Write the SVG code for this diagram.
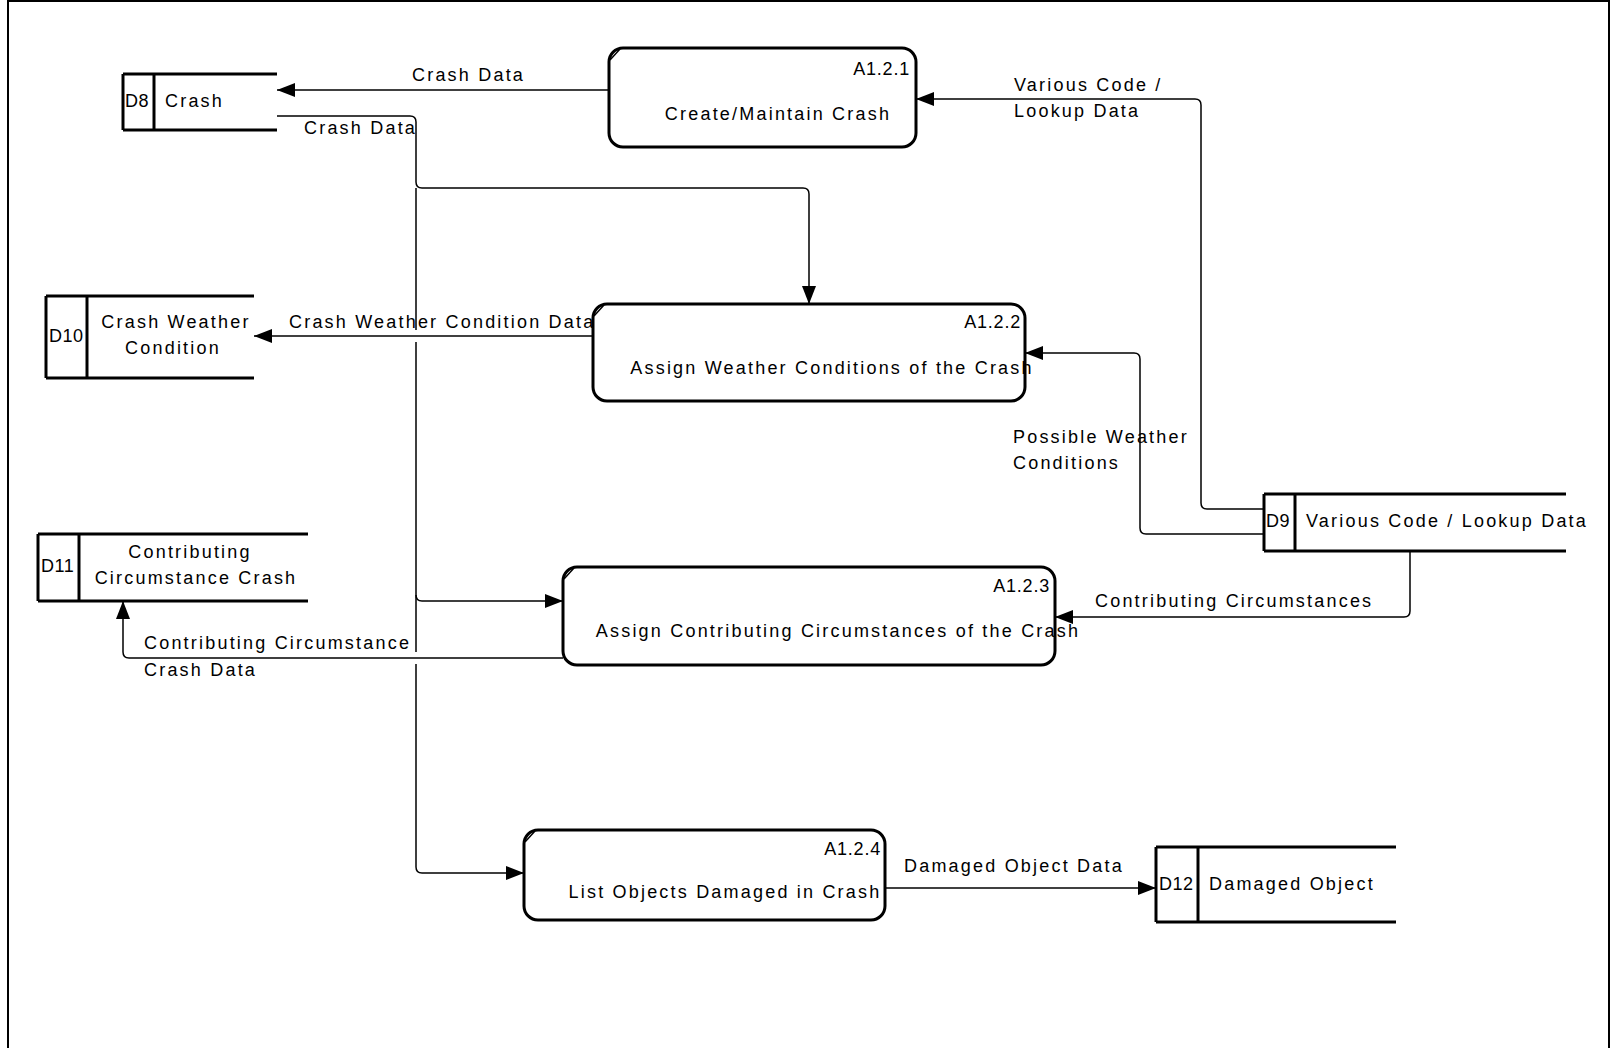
<svg xmlns="http://www.w3.org/2000/svg" width="1610" height="1048" viewBox="0 0 1610 1048">
  <defs>
    <marker id="arrow" viewBox="0 0 18 14" refX="18" refY="7" markerWidth="18" markerHeight="14" markerUnits="userSpaceOnUse" orient="auto">
      <path d="M0,0 L18,7 L0,14 Z" fill="#000"/>
    </marker>
    <style>
      text { font-family: "Liberation Sans", Arial, sans-serif; font-size: 18px; fill: #000; letter-spacing: 2.2px; }
      .proc rect { fill: #fff; stroke: #000; stroke-width: 3; }
      .proc .notch { fill: none; stroke: #000; stroke-width: 1.5; }
      .store line { stroke: #000; stroke-width: 3; }
      .flow { fill: none; stroke: #000; stroke-width: 1.5; }
      .arr { marker-end: url(#arrow); }
      .gap { stroke: #fff; stroke-width: 6; }
      .id { text-anchor: end; letter-spacing: 0.8px; }
      .mid { text-anchor: middle; }
      .code { letter-spacing: 0.5px; }
    </style>
  </defs>

  <rect width="1610" height="1048" fill="#fff"/>
  <!-- page frame -->
  <path d="M8,1048 V1 H1609 V1048" fill="none" stroke="#000" stroke-width="2"/>

  <!-- connectors -->
  <g id="connectors">
    <!-- A1.2.1 -> D8 -->
    <path class="flow arr" d="M609,90 H277"/>
    <!-- D8 -> A1.2.2 -->
    <path class="flow arr" d="M277,116 H410 Q416,116 416,122 V182 Q416,188 422,188 H803 Q809,188 809,194 V304"/>
    <!-- D8 -> A1.2.3 / A1.2.4 trunk -->
    <path class="flow arr" d="M416,188 V595 Q416,601 422,601 H563"/>
    <path class="flow arr" d="M416,595 V867 Q416,873 422,873 H524"/>
    <!-- A1.2.2 -> D10 -->
    <line class="gap" x1="416" y1="330" x2="416" y2="342"/>
    <path class="flow arr" d="M593,336 H254"/>
    <!-- D9 -> A1.2.1 -->
    <path class="flow arr" d="M1264,509 H1207 Q1201,509 1201,503 V105 Q1201,99 1195,99 H916"/>
    <!-- D9 -> A1.2.2 -->
    <path class="flow arr" d="M1264,534 H1146 Q1140,534 1140,528 V359 Q1140,353 1134,353 H1025"/>
    <!-- D9 -> A1.2.3 -->
    <path class="flow arr" d="M1410,551 V611 Q1410,617 1404,617 H1055"/>
    <!-- A1.2.3 -> D11 -->
    <line class="gap" x1="416" y1="652" x2="416" y2="664"/>
    <path class="flow arr" d="M563,658 H129 Q123,658 123,652 V601"/>
    <!-- A1.2.4 -> D12 -->
    <path class="flow arr" d="M885,888 H1156"/>

    <!-- flow labels -->
    <text x="412" y="81">Crash Data</text>
    <text x="304" y="134">Crash Data</text>
    <text x="1014" y="91">Various Code /</text>
    <text x="1014" y="117">Lookup Data</text>
    <text x="289" y="328">Crash Weather Condition Data</text>
    <text x="1013" y="443">Possible Weather</text>
    <text x="1013" y="469">Conditions</text>
    <text x="1095" y="607">Contributing Circumstances</text>
    <text x="144" y="649">Contributing Circumstance</text>
    <text x="144" y="676">Crash Data</text>
    <text x="904" y="872">Damaged Object Data</text>
  </g>

  <!-- data stores -->
  <g id="D8" class="store">
    <line x1="123" y1="74" x2="277" y2="74"/>
    <line x1="123" y1="130" x2="277" y2="130"/>
    <line x1="123" y1="74" x2="123" y2="130"/>
    <line x1="154" y1="74" x2="154" y2="130"/>
    <text class="code" x="125" y="107">D8</text>
    <text x="165" y="107">Crash</text>
  </g>

  <g id="D10" class="store">
    <line x1="46" y1="296" x2="254" y2="296"/>
    <line x1="46" y1="378" x2="254" y2="378"/>
    <line x1="46" y1="296" x2="46" y2="378"/>
    <line x1="87" y1="296" x2="87" y2="378"/>
    <text class="code" x="49" y="342">D10</text>
    <text class="mid" x="176" y="328">Crash Weather</text>
    <text class="mid" x="173" y="354">Condition</text>
  </g>

  <g id="D9" class="store">
    <line x1="1264" y1="494" x2="1566" y2="494"/>
    <line x1="1264" y1="551" x2="1566" y2="551"/>
    <line x1="1264" y1="494" x2="1264" y2="551"/>
    <line x1="1295" y1="494" x2="1295" y2="551"/>
    <text class="code" x="1266" y="527">D9</text>
    <text x="1306" y="527">Various Code / Lookup Data</text>
  </g>

  <g id="D11" class="store">
    <line x1="38" y1="534" x2="308" y2="534"/>
    <line x1="38" y1="601" x2="308" y2="601"/>
    <line x1="38" y1="534" x2="38" y2="601"/>
    <line x1="79" y1="534" x2="79" y2="601"/>
    <text class="code" x="41" y="572">D11</text>
    <text class="mid" x="190" y="558">Contributing</text>
    <text class="mid" x="196" y="584">Circumstance Crash</text>
  </g>

  <g id="D12" class="store">
    <line x1="1156" y1="847" x2="1396" y2="847"/>
    <line x1="1156" y1="922" x2="1396" y2="922"/>
    <line x1="1156" y1="847" x2="1156" y2="922"/>
    <line x1="1198" y1="847" x2="1198" y2="922"/>
    <text class="code" x="1159" y="890">D12</text>
    <text x="1209" y="890">Damaged Object</text>
  </g>

  <!-- processes -->
  <g id="A1.2.1" class="proc">
    <rect x="609" y="48" width="307" height="99" rx="14"/>
    <path class="notch" d="M610,60 L620,49"/>
    <text class="id" x="910" y="75">A1.2.1</text>
    <text class="mid" x="778" y="120">Create/Maintain Crash</text>
  </g>

  <g id="A1.2.2" class="proc">
    <rect x="593" y="304" width="432" height="97" rx="14"/>
    <path class="notch" d="M594,316 L604,305"/>
    <text class="id" x="1021" y="328">A1.2.2</text>
    <text class="mid" x="832" y="374">Assign Weather Conditions of the Crash</text>
  </g>

  <g id="A1.2.3" class="proc">
    <rect x="563" y="567" width="492" height="98" rx="14"/>
    <path class="notch" d="M564,579 L574,568"/>
    <text class="id" x="1050" y="592">A1.2.3</text>
    <text class="mid" x="838" y="637">Assign Contributing Circumstances of the Crash</text>
  </g>

  <g id="A1.2.4" class="proc">
    <rect x="524" y="830" width="361" height="90" rx="14"/>
    <path class="notch" d="M525,842 L535,831"/>
    <text class="id" x="881" y="855">A1.2.4</text>
    <text class="mid" x="725" y="898">List Objects Damaged in Crash</text>
  </g>
</svg>
